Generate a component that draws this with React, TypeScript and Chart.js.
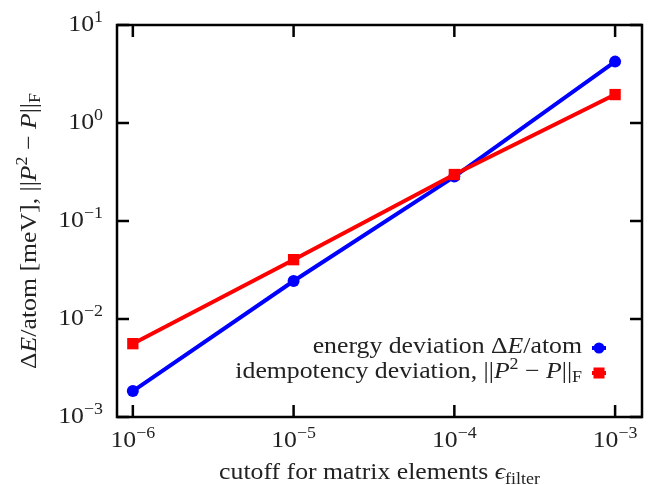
import React, { useEffect, useRef } from "react";
import { Chart, registerables } from "chart.js";

Chart.register(...registerables);

const cutoffs = [1e-6, 1e-5, 1e-4, 1e-3];
const energyDev = [0.00184, 0.0244, 0.284, 4.23];
const idempDev = [0.0056, 0.0403, 0.298, 1.95];
const xTickExps = [-6, -5, -4, -3];
const yTickExps = [-3, -2, -1, 0, 1];
const xMin = 7.97e-7;
const xMax = 1.47e-3;
const yMin = 1e-3;
const yMax = 10;

const BLUE = "#0000ff";
const RED = "#ff0000";
const FONT = '"Liberation Serif", "Times New Roman", serif';
const STRETCH = 1.12;
const BASE = 23;
const SMALL = 16;

type Run = { t: string; size?: number; italic?: boolean; dy?: number };

function runFont(r: Run) {
  return `${r.italic ? "italic " : ""}${r.size || BASE}px ${FONT}`;
}

function measureRuns(ctx: CanvasRenderingContext2D, runs: Run[]) {
  let w = 0;
  for (const r of runs) {
    ctx.font = runFont(r);
    w += ctx.measureText(r.t).width * STRETCH;
  }
  return w;
}

function drawRuns(
  ctx: CanvasRenderingContext2D,
  runs: Run[],
  x: number,
  y: number,
  align: "left" | "right" | "center"
) {
  const w = measureRuns(ctx, runs);
  let x0 = x;
  if (align === "right") x0 = x - w;
  else if (align === "center") x0 = x - w / 2;
  ctx.save();
  ctx.translate(x0, y);
  ctx.scale(STRETCH, 1);
  ctx.textAlign = "left";
  ctx.textBaseline = "alphabetic";
  ctx.fillStyle = "#222";
  let cx = 0;
  for (const r of runs) {
    ctx.font = runFont(r);
    ctx.fillText(r.t, cx, r.dy || 0);
    cx += ctx.measureText(r.t).width;
  }
  ctx.restore();
}

function powRuns(e: number): Run[] {
  const s = e < 0 ? "\u2212" + Math.abs(e) : String(e);
  return [{ t: "10" }, { t: s, size: SMALL, dy: -9 }];
}

const yTitleRuns: Run[] = [
  { t: "\u0394" },
  { t: "E", italic: true },
  { t: "/atom [meV], ||" },
  { t: "P", italic: true },
  { t: "2", size: SMALL, dy: -9 },
  { t: " \u2212 " },
  { t: "P", italic: true },
  { t: "||" },
  { t: "F", size: SMALL, dy: 4 },
];

const xTitleRuns: Run[] = [
  { t: "cutoff for matrix elements " },
  { t: "\u03f5", italic: true },
  { t: "filter", size: SMALL, dy: 5 },
];

const legend1Runs: Run[] = [
  { t: "energy deviation \u0394" },
  { t: "E", italic: true },
  { t: "/atom" },
];

const legend2Runs: Run[] = [
  { t: "idempotency deviation, ||" },
  { t: "P", italic: true },
  { t: "2", size: SMALL, dy: -9 },
  { t: " \u2212 " },
  { t: "P", italic: true },
  { t: "||" },
  { t: "F", size: SMALL, dy: 4 },
];

const decorPlugin = {
  id: "decor",
  afterDraw(chart: any) {
    const ctx: CanvasRenderingContext2D = chart.ctx;
    const a = chart.chartArea;
    const xs = chart.scales.x;
    const ys = chart.scales.y;
    const tick = 12;
    ctx.save();
    ctx.strokeStyle = "#000";
    ctx.lineWidth = 2.5;
    ctx.strokeRect(a.left, a.top, a.right - a.left, a.bottom - a.top);
    ctx.beginPath();
    for (const e of xTickExps) {
      const px = xs.getPixelForValue(Math.pow(10, e));
      ctx.moveTo(px, a.bottom);
      ctx.lineTo(px, a.bottom - tick);
      ctx.moveTo(px, a.top);
      ctx.lineTo(px, a.top + tick);
    }
    for (const e of yTickExps) {
      const py = ys.getPixelForValue(Math.pow(10, e));
      ctx.moveTo(a.left, py);
      ctx.lineTo(a.left + tick, py);
      ctx.moveTo(a.right, py);
      ctx.lineTo(a.right - tick, py);
    }
    ctx.stroke();
    ctx.restore();

    for (const e of xTickExps) {
      const px = xs.getPixelForValue(Math.pow(10, e));
      drawRuns(ctx, powRuns(e), px, a.bottom + 30, "center");
    }
    for (const e of yTickExps) {
      const py = ys.getPixelForValue(Math.pow(10, e));
      drawRuns(ctx, powRuns(e), a.left - 14, py + 6, "right");
    }

    drawRuns(ctx, xTitleRuns, (a.left + a.right) / 2, a.bottom + 62, "center");

    ctx.save();
    ctx.translate(36, (a.top + a.bottom) / 2 + 10);
    ctx.rotate(-Math.PI / 2);
    drawRuns(ctx, yTitleRuns, 0, 0, "center");
    ctx.restore();

    // legend
    const lx = a.right - 43;
    const textRight = lx - 17;
    const ly1 = a.top + 323;
    const ly2 = ly1 + 25;
    drawRuns(ctx, legend1Runs, textRight, ly1 + 5, "right");
    drawRuns(ctx, legend2Runs, textRight, ly2 + 5, "right");
    ctx.save();
    ctx.lineWidth = 4;
    ctx.strokeStyle = BLUE;
    ctx.beginPath();
    ctx.moveTo(lx - 7, ly1);
    ctx.lineTo(lx + 7, ly1);
    ctx.stroke();
    ctx.fillStyle = BLUE;
    ctx.beginPath();
    ctx.arc(lx, ly1, 5.5, 0, Math.PI * 2);
    ctx.fill();
    ctx.strokeStyle = RED;
    ctx.beginPath();
    ctx.moveTo(lx - 7, ly2);
    ctx.lineTo(lx + 7, ly2);
    ctx.stroke();
    ctx.fillStyle = RED;
    ctx.fillRect(lx - 5.5, ly2 - 5.5, 11, 11);
    ctx.restore();
  },
};

export default function App() {
  const ref = useRef<HTMLCanvasElement | null>(null);
  useEffect(() => {
    document.body.style.margin = "0";
    const canvas = ref.current!;
    const chart = new Chart(canvas, {
      type: "line",
      data: {
        datasets: [
          {
            label: "energy deviation",
            data: cutoffs.map((x, i) => ({ x, y: energyDev[i] })),
            borderColor: BLUE,
            backgroundColor: BLUE,
            borderWidth: 4,
            pointStyle: "circle",
            pointRadius: 6,
            pointBorderWidth: 0,
            pointBackgroundColor: BLUE,
            order: 1,
          },
          {
            label: "idempotency deviation",
            data: cutoffs.map((x, i) => ({ x, y: idempDev[i] })),
            borderColor: RED,
            backgroundColor: RED,
            borderWidth: 4,
            pointStyle: "rect",
            pointRadius: 8,
            pointBorderWidth: 0,
            pointBackgroundColor: RED,
            order: 0,
          },
        ],
      },
      options: {
        responsive: false,
        animation: false,
        layout: { padding: { left: 117, top: 25, right: 2, bottom: 68 } },
        plugins: { legend: { display: false }, tooltip: { enabled: false } },
        scales: {
          x: { type: "logarithmic", min: xMin, max: xMax, display: false },
          y: { type: "logarithmic", min: yMin, max: yMax, display: false },
        },
      },
      plugins: [decorPlugin],
    } as any);
    return () => chart.destroy();
  }, []);
  return (
    <div style={{ width: 650, height: 485 }}>
      <canvas ref={ref} width={650} height={485} />
    </div>
  );
}
